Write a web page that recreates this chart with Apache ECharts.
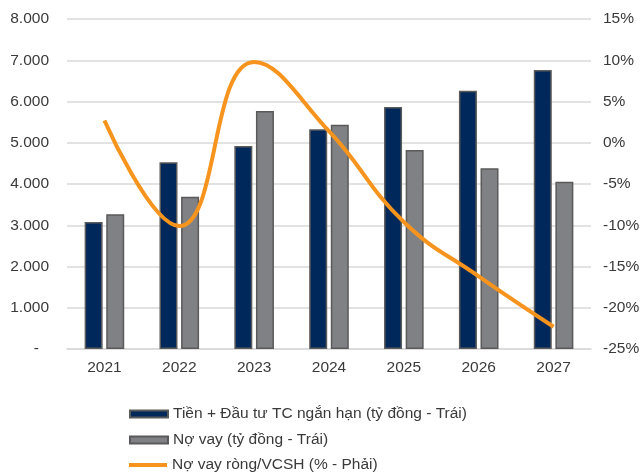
<!DOCTYPE html>
<html>
<head>
<meta charset="utf-8">
<script src="https://cdn.jsdelivr.net/npm/echarts@6/dist/echarts.min.js"></script>
<style>
  html, body { margin: 0; padding: 0; background: #fff; }
  #chart { width: 643px; height: 473px; }
</style>
</head>
<body>
<div id="chart"></div>
<script>
// Years on the category axis
const years = ['2021', '2022', '2023', '2024', '2025', '2026', '2027'];
// Cash + short-term financial investments (billion VND, left axis)
const cashInvest = [3080, 4525, 4920, 5325, 5865, 6260, 6765];
// Borrowings (billion VND, left axis)
const borrowings = [3265, 3690, 5770, 5435, 4825, 4380, 4055];
// Net debt / equity (%, right axis)
const netDebtEquity = [2.7, -10.1, 9.8, 1.4, -9.6, -16.2, -22.3];

const seriesNames = [
  'Tiền + Đầu tư TC ngắn hạn (tỷ đồng - Trái)',
  'Nợ vay (tỷ đồng - Trái)',
  'Nợ vay ròng/VCSH (% - Phải)'
];

const FONT = '"Liberation Sans", Arial, sans-serif';
const TEXT = '#3a3a3a';
const ORANGE = '#f7941d';

function thousands(v) {
  if (v === 0) return '{d|-}';
  return String(v).replace(/\B(?=(\d{3})+(?!\d))/g, '.');
}

// one legend row per series, stacked vertically below the plot
const legendRowTop = [401, 427, 452];
const legendIcons = [
  'rect',
  'rect',
  'path://M0,0L0,7M0,1.5L38,1.5L38,5.5L0,5.5Z'
];
const legends = seriesNames.map((name, i) => ({
  left: 124,
  top: legendRowTop[i],
  itemWidth: 38,
  itemHeight: 7,
  textStyle: { fontFamily: FONT, fontSize: 15.5, color: TEXT },
  data: [{ name: name, icon: legendIcons[i] }]
}));

const chart = echarts.init(document.getElementById('chart'), null, { renderer: 'canvas' });
chart.setOption({
  animation: false,
  backgroundColor: '#ffffff',
  textStyle: { fontFamily: FONT },
  grid: { left: 67, right: 52, top: 19, bottom: 124 },
  legend: legends,
  xAxis: {
    type: 'category',
    data: years,
    axisLine: { show: true, lineStyle: { color: '#d9d9d9', width: 1.5 } },
    axisTick: { show: false },
    axisLabel: { color: TEXT, fontSize: 15.5, fontFamily: FONT, margin: 11 }
  },
  yAxis: [
    {
      type: 'value',
      min: 0, max: 8000, interval: 1000,
      axisLine: { show: false },
      axisTick: { show: false },
      splitLine: { lineStyle: { color: '#d9d9d9', width: 1.5 } },
      axisLabel: {
        color: TEXT, fontSize: 15.5, fontFamily: FONT, margin: 18,
        formatter: thousands,
        rich: { d: { color: TEXT, fontSize: 15.5, fontFamily: FONT, padding: [0, 10, 0, 0] } }
      }
    },
    {
      type: 'value',
      min: -25, max: 15, interval: 5,
      position: 'right',
      axisLine: { show: false },
      axisTick: { show: false },
      splitLine: { show: false },
      axisLabel: {
        color: TEXT, fontSize: 15.5, fontFamily: FONT, margin: 12,
        formatter: v => v + '%'
      }
    }
  ],
  series: [
    {
      name: seriesNames[0],
      type: 'bar',
      data: cashInvest,
      barWidth: 18,
      barGap: '20%',
      itemStyle: { color: '#00285a', borderColor: '#5a5a5a', borderWidth: 1.5 }
    },
    {
      name: seriesNames[1],
      type: 'bar',
      data: borrowings,
      barWidth: 18,
      itemStyle: { color: '#808184', borderColor: '#5a5a5a', borderWidth: 1.5 }
    },
    {
      name: seriesNames[2],
      type: 'line',
      yAxisIndex: 1,
      data: netDebtEquity,
      smooth: 0.45,
      symbol: 'none',
      lineStyle: { color: ORANGE, width: 4 },
      itemStyle: { color: ORANGE },
      z: 5
    }
  ]
});
</script>
</body>
</html>
